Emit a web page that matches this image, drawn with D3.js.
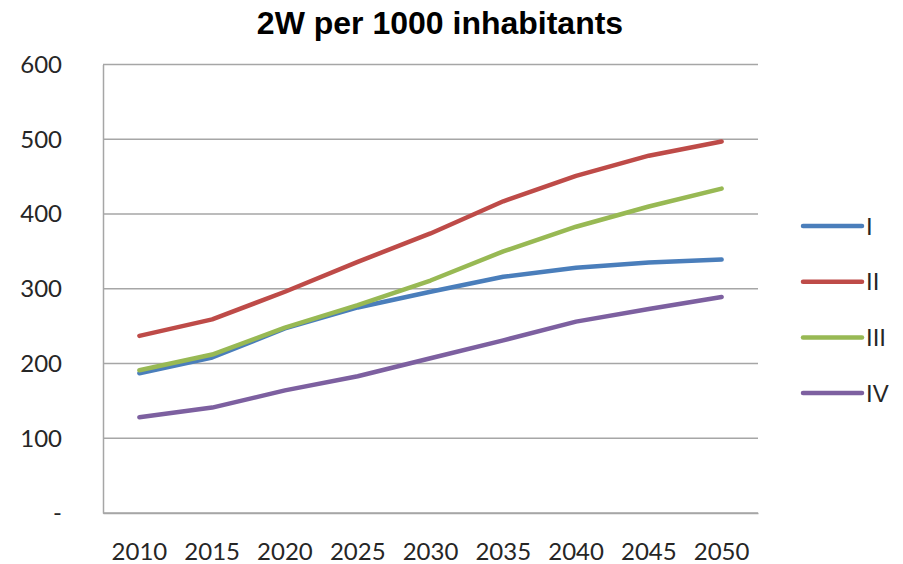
<!DOCTYPE html>
<html>
<head>
<meta charset="utf-8">
<script src="https://cdn.jsdelivr.net/npm/d3@7"></script>
<style>
  html, body { margin: 0; padding: 0; background: #fff; }
  svg { display: block; }
</style>
</head>
<body>
<svg id="chart" width="903" height="564"></svg>
<script>
// Two-wheelers per 1000 inhabitants, four scenarios
const years = ["2010", "2015", "2020", "2025", "2030", "2035", "2040", "2045", "2050"];
const seriesNames = ["I", "II", "III", "IV"];
const seriesI   = [187, 208, 247, 275, 296, 316, 328, 335, 339];
const seriesII  = [237, 259, 296, 336, 374, 417, 451, 478, 497];
const seriesIII = [191, 212, 248, 278, 311, 350, 383, 410, 434];
const seriesIV  = [128, 141, 164, 183, 207, 231, 256, 273, 289];
const yTicks = [0, 100, 200, 300, 400, 500, 600];
const colors = ["#4a7ebb", "#be4b48", "#98b954", "#7d60a0"];

const series = [seriesI, seriesII, seriesIII, seriesIV].map((v, i) => ({ name: seriesNames[i], values: v, color: colors[i] }));

const svg = d3.select("#chart");
const plot = { left: 103, right: 758, top: 64.5, bottom: 513 };

const x = d3.scaleBand().domain(years).range([plot.left, plot.right]);
const y = d3.scaleLinear().domain([0, 600]).range([plot.bottom, plot.top]);

// Title
svg.append("text")
  .attr("x", 440).attr("y", 34)
  .attr("text-anchor", "middle")
  .attr("font-family", "Liberation Sans, Arial, sans-serif")
  .attr("font-weight", "bold")
  .attr("font-size", 32)
  .attr("fill", "#000")
  .text("2W per 1000 inhabitants");

// Horizontal gridlines
svg.append("g")
  .selectAll("line")
  .data(yTicks)
  .join("line")
  .attr("x1", plot.left).attr("x2", plot.right)
  .attr("y1", d => y(d)).attr("y2", d => y(d))
  .attr("stroke", "#a6a6a6").attr("stroke-width", 1.5);

// Y axis
const yAxis = svg.append("g")
  .attr("transform", `translate(${plot.left},0)`)
  .call(d3.axisLeft(y).tickValues(yTicks).tickSize(0).tickPadding(0)
    .tickFormat(d => d === 0 ? "-" : d));
yAxis.select(".domain").attr("stroke", "#a6a6a6").attr("stroke-width", 1.5);
yAxis.selectAll("text")
  .attr("x", -41)
  .attr("dy", "0.33em")
  .attr("font-family", "Lato, sans-serif")
  .attr("font-size", 24)
  .attr("fill", "#262626");

// X axis
const xAxis = svg.append("g")
  .attr("transform", `translate(0,${plot.bottom})`)
  .call(d3.axisBottom(x).tickSize(0).tickPadding(0));
xAxis.select(".domain").attr("stroke", "#a6a6a6").attr("stroke-width", 1.5);
xAxis.selectAll("text")
  .attr("y", 47)
  .attr("dy", 0)
  .attr("font-family", "Lato, sans-serif")
  .attr("font-size", 24)
  .attr("fill", "#262626");

// Series lines
const line = d3.line()
  .x((d, i) => x(years[i]) + x.bandwidth() / 2)
  .y(d => y(d));

svg.append("g")
  .selectAll("path")
  .data(series)
  .join("path")
  .attr("d", d => line(d.values))
  .attr("fill", "none")
  .attr("stroke", d => d.color)
  .attr("stroke-width", 4.5)
  .attr("stroke-linecap", "round")
  .attr("stroke-linejoin", "round");

// Legend
const legend = svg.append("g")
  .selectAll("g")
  .data(series)
  .join("g")
  .attr("transform", (d, i) => `translate(803,${226 + i * 55.7})`);
legend.append("line")
  .attr("x1", 0).attr("x2", 59)
  .attr("stroke", d => d.color)
  .attr("stroke-width", 4.5)
  .attr("stroke-linecap", "round");
legend.append("text")
  .attr("x", 63).attr("dy", "0.36em")
  .attr("font-family", "Liberation Sans, Arial, sans-serif")
  .attr("font-size", 24)
  .attr("fill", "#262626")
  .text(d => d.name);
</script>
</body>
</html>
